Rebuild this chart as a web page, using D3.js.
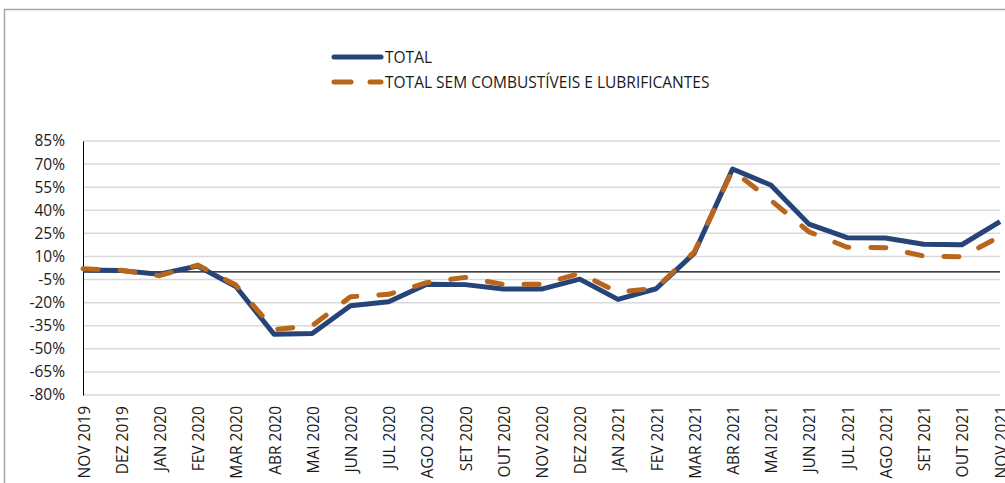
<!DOCTYPE html>
<html>
<head>
<meta charset="utf-8">
<script src="https://cdn.jsdelivr.net/npm/d3@7"></script>
<style>
  body { margin: 0; background: #fff; }
  svg text { font-family: "Open Sans", "Noto Sans", sans-serif; fill: #1a1a1a; }
</style>
</head>
<body>
<svg id="chart" width="1005" height="483"></svg>
<script>
const months = ["NOV 2019", "DEZ 2019", "JAN 2020", "FEV 2020", "MAR 2020", "ABR 2020", "MAI 2020",
  "JUN 2020", "JUL 2020", "AGO 2020", "SET 2020", "OUT 2020", "NOV 2020", "DEZ 2020",
  "JAN 2021", "FEV 2021", "MAR 2021", "ABR 2021", "MAI 2021", "JUN 2021", "JUL 2021",
  "AGO 2021", "SET 2021", "OUT 2021", "NOV 2021"];
const total = [1.2, 0.8, -1.5, 3.8, -9.5, -40.5, -40, -22, -19.4, -8.1, -8.3, -11.2, -11.2, -4.7,
  -17.9, -11, 12.2, 66.8, 56.4, 31, 22.2, 22, 17.9, 17.6, 32.6];
const semComb = [2, 1, -2.5, 4.4, -8.6, -37.5, -35, -16.2, -14.6, -7, -3.6, -8.1, -8.1, -1,
  -13.3, -10.5, 13, 66, 46.5, 26, 16, 15.7, 10.3, 9.8, 23];
const yTicks = [85, 70, 55, 40, 25, 10, -5, -20, -35, -50, -65, -80];
const seriesNames = ["TOTAL", "TOTAL SEM COMBUSTÍVEIS E LUBRIFICANTES"];

const svg = d3.select("#chart");
const mLeft = 83, mRight = 1000, mTop = 141, mBottom = 395;
const fs = 15.5;

// moldura
svg.append("path")
  .attr("d", `M4.5,483 V9.5 H1005`)
  .attr("fill", "none").attr("stroke", "#a6a6a6").attr("stroke-width", 1.5);

const x = d3.scalePoint().domain(months).range([mLeft, mRight]);
const y = d3.scaleLinear().domain([-80, 85]).range([mBottom, mTop]);

// grade
svg.append("g").selectAll("line")
  .data(yTicks)
  .enter().append("line")
  .attr("x1", mLeft).attr("x2", mRight)
  .attr("y1", d => y(d)).attr("y2", d => y(d))
  .attr("stroke", "#d9d9d9").attr("stroke-width", 1.5);

// eixo y
const yAxis = svg.append("g").attr("transform", `translate(${mLeft},0)`)
  .call(d3.axisLeft(y).tickValues(yTicks).tickSize(0).tickPadding(18).tickFormat(d => d + "%"));
yAxis.select(".domain").attr("stroke", "#000").attr("stroke-width", 1);
yAxis.selectAll("text").attr("font-size", fs).attr("fill", "#1a1a1a");

// linha zero
svg.append("line")
  .attr("x1", mLeft).attr("x2", mRight)
  .attr("y1", y(0)).attr("y2", y(0))
  .attr("stroke", "#000").attr("stroke-width", 1.2);

// eixo x
const xAxis = svg.append("g").attr("transform", `translate(0,${mBottom})`)
  .call(d3.axisBottom(x).tickSize(0));
xAxis.select(".domain").remove();
xAxis.selectAll("text")
  .attr("font-size", fs)
  .attr("fill", "#1a1a1a")
  .attr("text-anchor", "end")
  .attr("dominant-baseline", "central")
  .attr("transform", "translate(0,11) rotate(-90)")
  .attr("x", 0).attr("y", 0).attr("dy", null);

const line = d3.line().x((d, i) => x(months[i])).y(d => y(d));

svg.append("path")
  .datum(total)
  .attr("d", line)
  .attr("fill", "none").attr("stroke", "#264478").attr("stroke-width", 5)
  .attr("stroke-linejoin", "round");

svg.append("path")
  .datum(semComb)
  .attr("d", line)
  .attr("fill", "none").attr("stroke", "#b7661b").attr("stroke-width", 5)
  .attr("stroke-dasharray", "15,22").attr("stroke-linecap", "round")
  .attr("stroke-linejoin", "round");

// legenda
const legend = svg.append("g");
legend.append("line")
  .attr("x1", 334).attr("x2", 381).attr("y1", 57).attr("y2", 57)
  .attr("stroke", "#264478").attr("stroke-width", 5).attr("stroke-linecap", "round");
legend.append("line")
  .attr("x1", 334).attr("x2", 381).attr("y1", 82).attr("y2", 82)
  .attr("stroke", "#b7661b").attr("stroke-width", 5).attr("stroke-linecap", "round")
  .attr("stroke-dasharray", "17,19");
legend.selectAll("text")
  .data(seriesNames)
  .enter().append("text")
  .attr("x", 385)
  .attr("y", (d, i) => 57 + i * 25)
  .attr("dominant-baseline", "central")
  .attr("font-size", fs)
  .text(d => d);
</script>
</body>
</html>
